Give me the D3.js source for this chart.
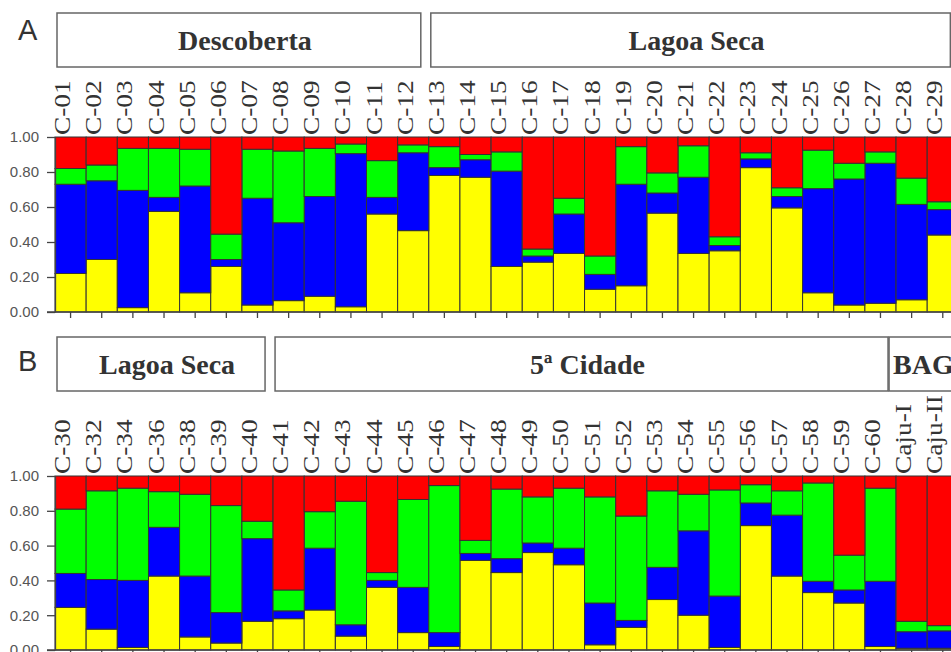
<!DOCTYPE html>
<html>
<head>
<meta charset="utf-8">
<script src="https://cdn.jsdelivr.net/npm/d3@7/dist/d3.min.js"></script>
<style>
	body { margin: 0; background: #fff; }
	svg { display: block; }
</style>
</head>
<body>
<script>

	// ---- panel A: individuals and cluster proportions (K = 4) ----
	var labelsA = ["C-01","C-02","C-03","C-04","C-05","C-06","C-07","C-08","C-09","C-10",
		"C-11","C-12","C-13","C-14","C-15","C-16","C-17","C-18","C-19","C-20",
		"C-21","C-22","C-23","C-24","C-25","C-26","C-27","C-28","C-29"];
	var yellowA = [.22,.30,.025,.575,.11,.26,.04,.065,.09,.03,.56,.465,.78,.77,.26,.285,.335,.13,.15,.565,.335,.35,.825,.595,.11,.04,.05,.07,.44];
	var blueA   = [.51,.45,.67,.08,.61,.04,.61,.445,.57,.875,.095,.445,.045,.10,.545,.035,.225,.085,.58,.115,.435,.03,.05,.065,.595,.72,.80,.545,.145];
	var greenA  = [.09,.09,.24,.28,.21,.145,.28,.41,.275,.055,.21,.045,.12,.03,.11,.04,.09,.105,.215,.115,.18,.05,.035,.05,.22,.09,.065,.15,.045];
	var redA    = [.18,.16,.065,.065,.07,.555,.07,.08,.065,.04,.135,.045,.055,.10,.085,.64,.35,.68,.055,.205,.05,.57,.09,.29,.075,.15,.085,.235,.37];
	var groupNamesA = ["Descoberta", "Lagoa Seca"];
	var groupSizesA = [12, 17];

	// ---- panel B ----
	var labelsB = ["C-30","C-32","C-34","C-36","C-38","C-39","C-40","C-41","C-42","C-43",
		"C-44","C-45","C-46","C-47","C-48","C-49","C-50","C-51","C-52","C-53",
		"C-54","C-55","C-56","C-57","C-58","C-59","C-60","Caju-I","Caju-II"];
	var yellowB = [.245,.12,.015,.425,.075,.04,.165,.18,.23,.08,.36,.10,.02,.515,.445,.56,.49,.03,.13,.29,.20,.015,.715,.425,.33,.27,.02,.01,.01];
	var blueB   = [.195,.285,.385,.28,.35,.175,.475,.045,.355,.065,.04,.26,.08,.04,.08,.055,.095,.24,.04,.185,.485,.295,.13,.35,.065,.075,.375,.095,.10];
	var greenB  = [.37,.51,.53,.205,.47,.615,.10,.12,.21,.71,.045,.505,.845,.075,.40,.265,.345,.61,.60,.44,.21,.61,.105,.14,.565,.20,.535,.06,.03];
	var redB    = [.19,.085,.07,.09,.105,.17,.26,.655,.205,.145,.555,.135,.055,.37,.075,.12,.07,.12,.23,.085,.105,.08,.05,.085,.04,.455,.07,.835,.86];
	var groupNamesB = ["Lagoa Seca", "5ª Cidade", "BAG"];
	var groupSizesB = [7, 20, 2];

	var yTicks = [0, 0.2, 0.4, 0.6, 0.8, 1.0];
	var clusterKeys = ["yellow", "blue", "green", "red"];
	var clusterColors = { yellow: "#ffff00", blue: "#0000ff", green: "#00ff00", red: "#ff0000" };

	var width = 951, height = 652;
	var plotLeft = 55, barW = 31.15;

	var svg = d3.select("body").append("svg")
		.attr("width", width)
		.attr("height", height);

	// build rows for d3.stack
	function rows(labels, y, b, g, r) {
		return labels.map(function(d, i) {
			return { id: d, yellow: y[i], blue: b[i], green: g[i], red: r[i] };
		});
	}

	function drawPanel(opt) {
		var g = svg.append("g");
		var data = rows(opt.labels, opt.yellow, opt.blue, opt.green, opt.red);

		var x = d3.scaleBand()
			.domain(opt.labels)
			.range([plotLeft, plotLeft + barW * opt.labels.length])
			.padding(0);
		var y = d3.scaleLinear().domain([0, 1]).range([opt.bottom, opt.top]);

		// panel letter
		g.append("text")
			.attr("x", 18).attr("y", opt.letterY)
			.style("font-family", "Liberation Sans, Arial, sans-serif")
			.style("font-size", "29px")
			.style("fill", "#333")
			.text(opt.letter);

		// population boxes
		var start = 0;
		opt.groupNames.forEach(function(name, i) {
			var first = opt.labels[start];
			var last = opt.labels[start + opt.groupSizes[i] - 1];
			var x0 = x(first) + 2, x1 = x(last) + x.bandwidth() - 8;
			var open = (i == opt.groupNames.length - 1 && opt.openEnd);
			if (open) { x0 = x(first) - 7; x1 = width + 20; }
			g.append("rect")
				.attr("x", x0).attr("y", opt.boxTop)
				.attr("width", x1 - x0).attr("height", opt.boxBottom - opt.boxTop)
				.style("fill", "#fff")
				.style("stroke", "#666")
				.style("stroke-width", 1.5);
			var t = g.append("text")
				.attr("y", opt.boxTop + (opt.boxBottom - opt.boxTop) / 2 + 10)
				.style("font-family", "Liberation Serif, Times New Roman, serif")
				.style("font-weight", "bold")
				.style("font-size", "28px")
				.style("fill", "#333")
				.text(name);
			if (open) {
				t.attr("x", x0 + 4).style("text-anchor", "start");
			} else {
				t.attr("x", (x0 + x1) / 2 + 6).style("text-anchor", "middle");
			}
			start += opt.groupSizes[i];
		});

		// individual labels, rotated
		g.selectAll(".lab")
			.data(opt.labels)
			.enter().append("text")
			.attr("class", "lab")
			.attr("transform", function(d) {
				return "translate(" + (x(d) + x.bandwidth() / 2 - 0.5) + "," + (opt.top - 2) + ") rotate(-90) scale(1.14,1)";
			})
			.style("text-anchor", "start")
			.style("font-family", "Liberation Serif, Times New Roman, serif")
			.style("font-size", "24px")
			.style("fill", "#333")
			.text(function(d) { return d; });

		// stacked bars
		var stack = d3.stack().keys(clusterKeys);
		var layers = stack(data);
		g.selectAll(".layer")
			.data(layers)
			.enter().append("g")
			.attr("class", "layer")
			.style("fill", function(d) { return clusterColors[d.key]; })
			.selectAll("rect")
			.data(function(d) { return d; })
			.enter().append("rect")
			.attr("x", function(d) { return x(d.data.id); })
			.attr("width", x.bandwidth())
			.attr("y", function(d) { return y(d[1]); })
			.attr("height", function(d) { return y(d[0]) - y(d[1]); })
			.style("stroke", "#333")
			.style("stroke-width", 1);

		// y axis
		var yAxis = d3.axisLeft(y)
			.tickValues(yTicks)
			.tickFormat(d3.format(".2f"))
			.tickSize(8)
			.tickSizeOuter(0);
		var ya = g.append("g")
			.attr("transform", "translate(" + plotLeft + ",0)")
			.call(yAxis);
		ya.selectAll("text")
			.attr("x", -16)
			.style("font-family", "Liberation Sans, Arial, sans-serif")
			.style("font-size", "15px")
			.style("fill", "#555");
		ya.selectAll("line, path").style("stroke", "#444").style("stroke-width", 1.3);

		// x axis ticks at bar centres
		var xAxis = d3.axisBottom(x).tickSize(6).tickSizeOuter(0).tickFormat("");
		var xa = g.append("g")
			.attr("transform", "translate(0," + opt.bottom + ")")
			.call(xAxis);
		xa.select(".domain").remove();
		xa.selectAll("line").style("stroke", "#444").style("stroke-width", 1.3);
		g.append("line")
			.attr("x1", plotLeft - 8).attr("x2", width)
			.attr("y1", opt.bottom).attr("y2", opt.bottom)
			.style("stroke", "#444").style("stroke-width", 1.3);
	}

	drawPanel({
		letter: "A", letterY: 40,
		labels: labelsA, yellow: yellowA, blue: blueA, green: greenA, red: redA,
		groupNames: groupNamesA, groupSizes: groupSizesA, openEnd: false,
		boxTop: 13, boxBottom: 67, top: 137, bottom: 312
	});

	drawPanel({
		letter: "B", letterY: 371,
		labels: labelsB, yellow: yellowB, blue: blueB, green: greenB, red: redB,
		groupNames: groupNamesB, groupSizes: groupSizesB, openEnd: true,
		boxTop: 337, boxBottom: 391, top: 476, bottom: 650
	});

</script>
</body>
</html>
